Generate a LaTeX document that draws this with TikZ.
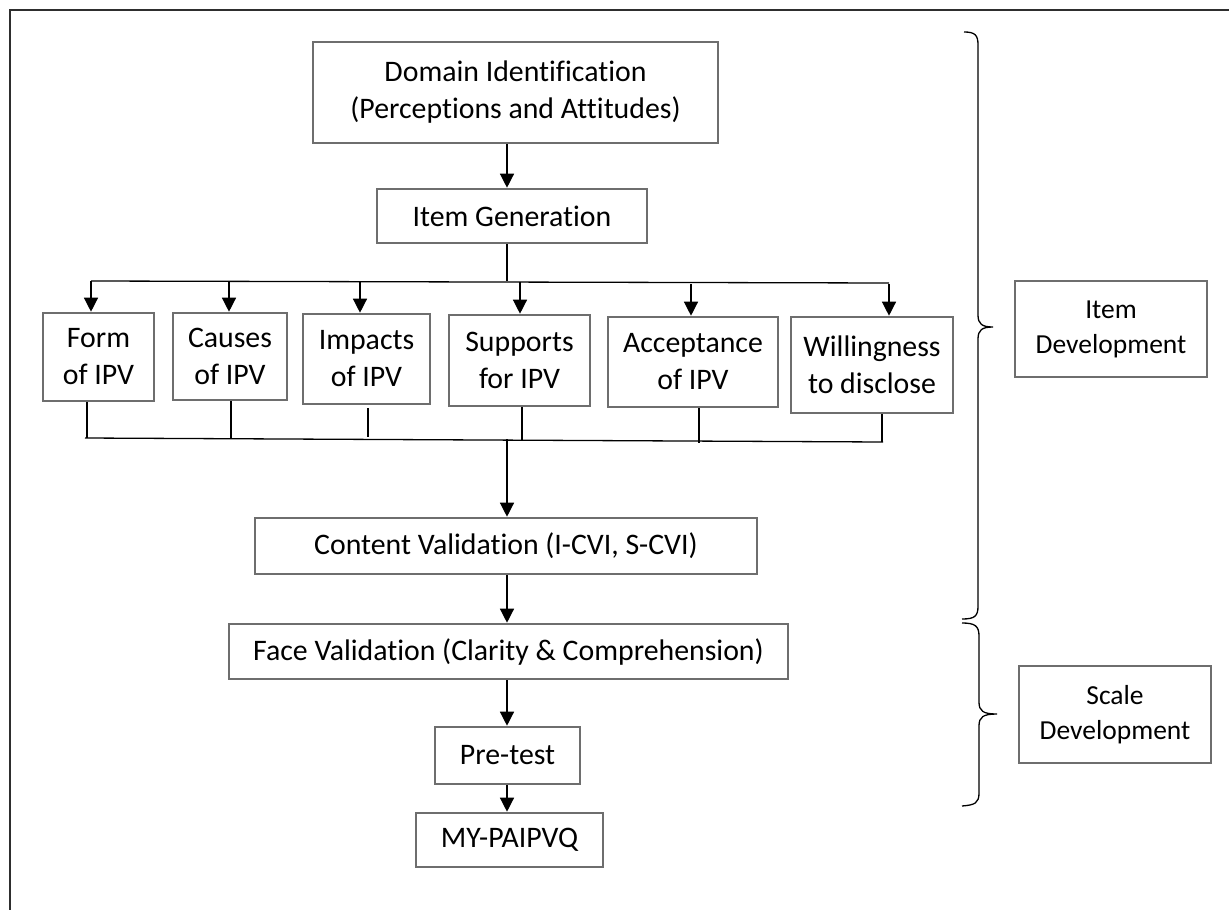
\documentclass[tikz,border=0pt]{standalone}
\usepackage{fontspec}
\setmainfont{Carlito}[Ligatures={NoCommon}]
\usetikzlibrary{arrows.meta}
\definecolor{boxgray}{HTML}{6E6E6E}
\definecolor{framegray}{HTML}{2E2E2E}
\tikzset{
  box/.style={draw=boxgray, line width=2.6pt, fill=white, inner sep=0pt, align=center,
    font=\fontsize{29.8}{37}\selectfont},
  sidebox/.style={box, font=\fontsize{27.5}{35}\selectfont},
  conn/.style={draw=black, line width=1.3pt},
  arr/.style={conn, -{Triangle[length=14pt,width=14pt]}},
  bracestyle/.style={draw=black, line width=1.3pt},
}
\begin{document}
\begin{tikzpicture}[x=1pt,y=-1pt]
\useasboundingbox (0,0) rectangle (1229,910);
\fill[white] (0,0) rectangle (1229,910);
% outer frame (top and left only)
\draw[framegray, line width=2.4pt] (10,910) -- (10,10) -- (1229,10);

% main column
\node[box, minimum width=405pt, minimum height=101pt] (dom) at (515.5,92.5) {Domain Identification\\(Perceptions and Attitudes)};
\node[box, minimum width=270pt, minimum height=54pt] (gen) at (512,216) {Item Generation};

\node[box, minimum width=111pt, minimum height=88pt] (form) at (98.5,357) {Form\\of IPV};
\node[box, minimum width=114pt, minimum height=87pt] (causes) at (230,356.5) {Causes\\of IPV};
\node[box, minimum width=127pt, minimum height=90pt] (impacts) at (366.5,359) {Impacts\\of IPV};
\node[box, minimum width=141pt, minimum height=91pt] (supports) at (519.5,360.5) {Supports\\for IPV};
\node[box, minimum width=170pt, minimum height=90pt] (accept) at (693,362) {Acceptance\\of IPV};
\node[box, minimum width=162pt, minimum height=96pt] (will) at (872,365) {Willingness\\to disclose};

\node[box, minimum width=502pt, minimum height=56pt] (content) at (506,546) {Content Validation (I-CVI, S-CVI)};
\node[box, minimum width=559pt, minimum height=55pt] (face) at (508.5,651.5) {Face Validation (Clarity \& Comprehension)};
\node[box, minimum width=145pt, minimum height=57pt] (pretest) at (507.5,755.5) {Pre-test};
\node[box, minimum width=187pt, minimum height=54pt] (my) at (509.5,840) {MY-PAIPVQ};

% side labels
\node[sidebox, minimum width=192pt, minimum height=96pt] (itemdev) at (1111,329) {Item\\Development};
\node[sidebox, minimum width=192pt, minimum height=97pt] (scaledev) at (1115,714.5) {Scale\\Development};

% helper coordinates
\coordinate (cx) at (507,0);
\coordinate (bl) at (91,281);
\coordinate (br) at (889,283);
\coordinate (a1) at (91,281);
\coordinate (a2) at (229,281);
\coordinate (a3) at (360,282);
\coordinate (a4) at (520,282);
\coordinate (a5) at (691,284);
\coordinate (a6) at (889,284);
\coordinate (cl) at (85,438);
\coordinate (cr) at (883,442);
\coordinate (s1) at (87,438);
\coordinate (s2) at (231,438);
\coordinate (s3) at (368,439);
\coordinate (s4) at (522,440);
\coordinate (s5) at (699,441);
\coordinate (s6) at (882,442);
\coordinate (cm) at (507,439);

% top connectors
\draw[arr] (dom.south -| cx) -- (gen.north -| cx);
\draw[conn] (gen.south -| cx) -- (cx |- bl);
\draw[conn] (bl) -- (br);
\draw[arr] (a1) -- (a1 |- form.north);
\draw[arr] (a2) -- (a2 |- causes.north);
\draw[arr] (a3) -- (a3 |- impacts.north);
\draw[arr] (a4) -- (a4 |- supports.north);
\draw[arr] (a5) -- (a5 |- accept.north);
\draw[arr] (a6) -- (a6 |- will.north);

% collecting line
\draw[conn] (cl) -- (cr);
\draw[conn] (s1 |- form.south) -- (s1);
\draw[conn] (s2 |- causes.south) -- (s2);
\draw[conn] ([yshift=-3pt]s3 |- impacts.south) -- ([yshift=2pt]s3);
\draw[conn] (s4 |- supports.south) -- (s4);
\draw[conn] (s5 |- accept.south) -- ([yshift=-2pt]s5);
\draw[conn] (s6 |- will.south) -- (s6);

% lower column
\draw[arr] (cm) -- (cm |- content.north);
\draw[arr] (content.south -| cx) -- (face.north -| cx);
\draw[arr] (face.south -| cx) -- (pretest.north -| cx);
\draw[arr] (pretest.south -| cx) -- (my.north -| cx);

% braces
\draw[bracestyle] (964,32) .. controls (975,32) and (978,35) .. (978,45)
  -- (978,315) .. controls (978,324) and (982,327) .. (993,327)
  .. controls (982,327) and (978,330) .. (978,339)
  -- (978,606) .. controls (978,616) and (975,619) .. (962,619);
\draw[bracestyle] (962,623) .. controls (975,623) and (979,626) .. (979,636)
  -- (979,702) .. controls (979,711) and (983,714) .. (997,714)
  .. controls (983,714) and (979,717) .. (979,726)
  -- (979,793) .. controls (979,803) and (975,805) .. (962,806);
\end{tikzpicture}
\end{document}
